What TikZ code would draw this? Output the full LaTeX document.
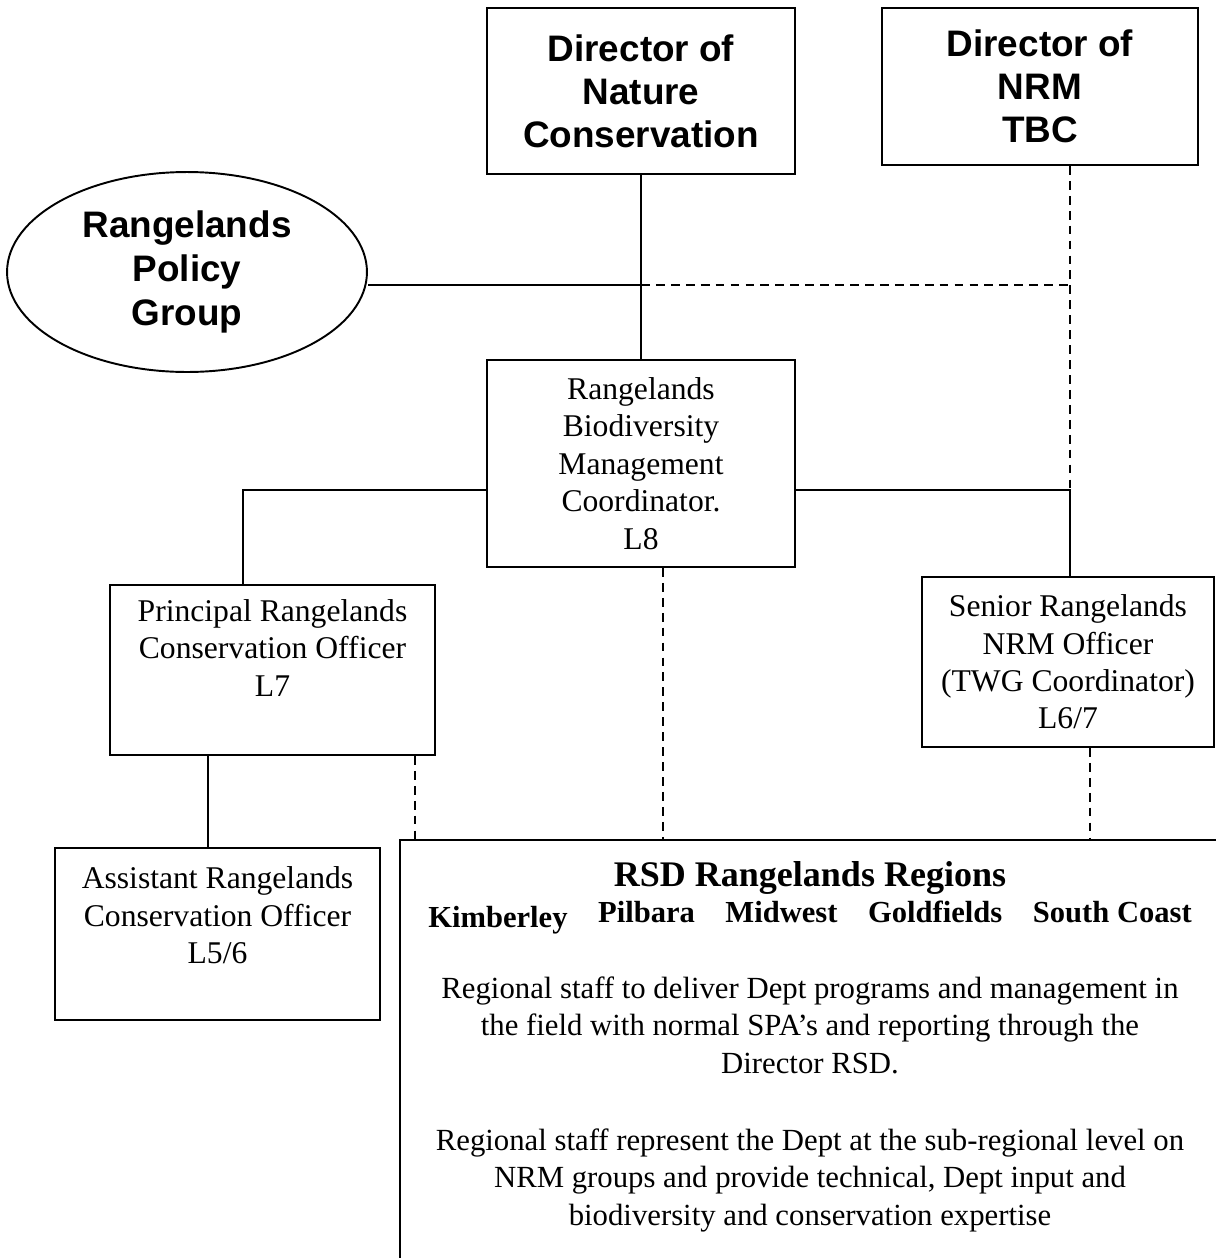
\documentclass[tikz,border=0pt]{standalone}
\usepackage{fontspec}
\setmainfont{Liberation Serif}
\setsansfont{Liberation Sans}
\usetikzlibrary{shapes.geometric}

\begin{document}
\begin{tikzpicture}
            [x=0.02cm, y=-0.02cm,
            every node/.style={align=center},
            solidline/.style={line width=1.1pt},
            dashline/.style={line width=1.1pt, dash pattern=on 5pt off 3.5pt},
            headbox/.style={rectangle, draw, line width=1.1pt, font=\sffamily\bfseries\fontsize{21}{24.5}\selectfont},
            policy/.style={ellipse, draw, line width=1.1pt, inner sep=0pt, minimum width=7.2cm, minimum height=4cm, font=\sffamily\bfseries\fontsize{21}{25}\selectfont},
            box/.style={rectangle, draw, line width=1.1pt, font=\fontsize{18}{21.3}\selectfont},
            rsdtext/.style={inner sep=0pt, font=\fontsize{17.5}{21.5}\selectfont}]

            \useasboundingbox (0,0) rectangle (1216,1258);
            \clip (0,0) rectangle (1216,1258);

            % top row
            \node[headbox, minimum width=6.16cm, minimum height=3.32cm] (dnc) at (641,91) {Director of\\Nature\\Conservation};
            \node[headbox, minimum width=6.32cm, minimum height=3.14cm] (dnrm) at (1040,86.5) {Director of\\NRM\\TBC};
            \node[policy] (rpg) at (187,272) {Rangelands\\Policy\\Group};

            % coordinator and officers
            \node[box, minimum width=6.16cm, minimum height=4.14cm] (rbmc) at (641,463.5)
                {Rangelands\\Biodiversity\\Management\\Coordinator.\\L8};
            \node[box, minimum width=6.5cm, minimum height=3.4cm] (pco) at (272.5,670)
                {Principal Rangelands\\Conservation Officer\\L7\\[4pt]\mbox{}};
            \node[box, minimum width=5.84cm, minimum height=3.4cm] (senior) at (1068,662)
                {Senior Rangelands\\NRM Officer\\(TWG Coordinator)\\L6/7};
            \node[box, minimum width=6.5cm, minimum height=3.44cm] (aco) at (217.5,934)
                {Assistant Rangelands\\Conservation Officer\\L5/6\\[0pt]\mbox{}};

            % regions
            \node[box, minimum width=16.4cm, minimum height=8.5cm] (rsd) at (810,1052.5) {};
            \node[rsdtext, anchor=base, font=\bfseries\fontsize{20.5}{24}\selectfont] (rsdtitle) at (810,886)
                {RSD Rangelands Regions};
            \node[rsdtext, anchor=base, font=\bfseries\fontsize{17.4}{21}\selectfont] (regions) at (810,922)
                {\raisebox{-3.4pt}{Kimberley}\quad Pilbara\quad Midwest\quad Goldfields\quad South Coast};
            \node[rsdtext, anchor=north] (deliver) at (810,976)
                {Regional staff to deliver Dept programs and management in\\
                 the field with normal SPA’s and reporting through the\\
                 Director RSD.};
            \node[rsdtext, anchor=north] (represent) at (810,1128)
                {Regional staff represent the Dept at the sub-regional level on\\
                 NRM groups and provide technical, Dept input and\\
                 biodiversity and conservation expertise};

            % junctions
            \coordinate (split) at (641,285);
            \coordinate (nrmtap) at (1070,285);
            \coordinate (rightarm) at (1070,490);
            \coordinate (leftarm) at (243,490);
            \coordinate (acolink) at (208,0);
            \coordinate (pcodash) at (415,0);
            \coordinate (rbmcdash) at (663,0);
            \coordinate (seniordash) at (1090,0);

            % lines
            \draw[solidline] (dnc) -- (rbmc);
            \draw[solidline] (split) -- (split -| rpg.east);
            \draw[dashline] (split) -- (nrmtap);
            \draw[dashline] (nrmtap |- dnrm.south) -- (rightarm);
            \draw[solidline] (rbmc.east |- rightarm) -- (rightarm) -- (rightarm |- senior.north);
            \draw[solidline] (rbmc.west |- leftarm) -- (leftarm) -- (leftarm |- pco.north);
            \draw[solidline] (acolink |- pco.south) -- (acolink |- aco.north);
            \draw[dashline] (pcodash |- pco.south) -- (pcodash |- rsd.north);
            \draw[dashline] (rbmcdash |- rbmc.south) -- (rbmcdash |- rsd.north);
            \draw[dashline] (seniordash |- senior.south) -- (seniordash |- rsd.north);
\end{tikzpicture}
\end{document}
